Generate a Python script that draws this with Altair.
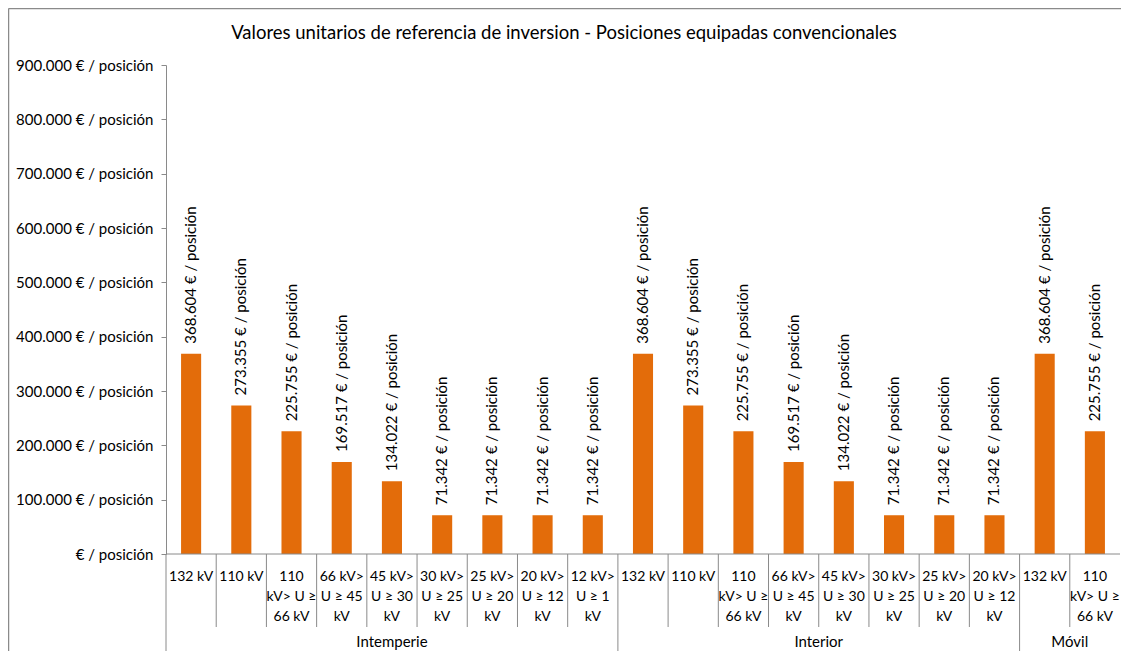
import altair as alt
import pandas as pd

# ---------------- data ----------------
groups = ["Intemperie"] * 9 + ["Interior"] * 8 + ["Móvil"] * 2
categories = [
    "132 kV", "110 kV", "110|kV> U ≥|66 kV", "66 kV>|U ≥ 45|kV", "45 kV>|U ≥ 30|kV",
    "30 kV>|U ≥ 25|kV", "25 kV>|U ≥ 20|kV", "20 kV>|U ≥ 12|kV", "12 kV>|U ≥ 1|kV",
    "132 kV", "110 kV", "110|kV> U ≥|66 kV", "66 kV>|U ≥ 45|kV", "45 kV>|U ≥ 30|kV",
    "30 kV>|U ≥ 25|kV", "25 kV>|U ≥ 20|kV", "20 kV>|U ≥ 12|kV",
    "132 kV", "110|kV> U ≥|66 kV",
]
values = [
    368604, 273355, 225755, 169517, 134022, 71342, 71342, 71342, 71342,
    368604, 273355, 225755, 169517, 134022, 71342, 71342, 71342,
    368604, 225755,
]
y_ticks = [0, 100000, 200000, 300000, 400000, 500000, 600000, 700000, 800000, 900000]
chart_title = "Valores unitarios de referencia de inversion - Posiciones equipadas convencionales"

# ---------------- tables ----------------
n = len(values)
df = pd.DataFrame({
    "lo": [i + 0.3 for i in range(n)],
    "hi": [i + 0.7 for i in range(n)],
    "mid": [i + 0.5 for i in range(n)],
    "value": values,
    "base": [0] * n,
    "cat": categories,
    "vlabel": [f"{v:,}".replace(",", ".") + " € / posición" for v in values],
})

group_names = []
group_start = []
group_end = []
for i, g in enumerate(groups):
    if not group_names or group_names[-1] != g:
        group_names.append(g)
        group_start.append(i)
        group_end.append(i + 1)
    else:
        group_end[-1] = i + 1
gdf = pd.DataFrame({
    "name": group_names,
    "start": group_start,
    "center": [(s + e) / 2 for s, e in zip(group_start, group_end)],
})
inner_b = [i for i in range(1, n) if groups[i] == groups[i - 1]]
idf = pd.DataFrame({"b": inner_b})
zdf = pd.DataFrame({"z": [0]})

# ---------------- style ----------------
W, H = 954, 489
FONT = "Lato"
GRAY = "#8a8a8a"
ORANGE = "#E36C0A"

xs = alt.Scale(domain=[0, n], nice=False, zero=False)
ys = alt.Scale(domain=[0, 900000], nice=False)

yaxis = alt.Axis(
    values=y_ticks, grid=False, title=None,
    labelExpr="datum.value == 0 ? '€ / posición' : format(datum.value / 1000, 'd') + '.000 € / posición'",
    labelFont=FONT, labelFontSize=15, labelColor="black", labelPadding=8,
    domainColor=GRAY, tickColor=GRAY, tickSize=5,
)

bars = alt.Chart(df).mark_bar(color=ORANGE).encode(
    x=alt.X("lo:Q", scale=xs, axis=None),
    x2="hi",
    y=alt.Y("value:Q", scale=ys, axis=yaxis),
    y2="base",
)

bar_labels = alt.Chart(df).mark_text(
    angle=270, align="left", baseline="middle", dx=10,
    font=FONT, fontSize=15, color="black",
).encode(x=alt.X("mid:Q", scale=xs), y=alt.Y("value:Q", scale=ys), text="vlabel:N")

zero_line = alt.Chart(zdf).mark_rule(color=GRAY).encode(y=alt.Y("z:Q", scale=ys))

inner_sep = alt.Chart(idf).mark_rule(color=GRAY).encode(
    x=alt.X("b:Q", scale=xs), y=alt.value(H), y2=alt.value(H + 73)
)
group_sep = alt.Chart(gdf).mark_rule(color=GRAY).encode(
    x=alt.X("start:Q", scale=xs), y=alt.value(H), y2=alt.value(H + 200)
)

cat_labels = alt.Chart(df).mark_text(
    align="center", baseline="alphabetic", lineBreak="|", lineHeight=20,
    font=FONT, fontSize=14, color="black",
).encode(x=alt.X("mid:Q", scale=xs), y=alt.value(H + 27), text="cat:N")

group_labels = alt.Chart(gdf).mark_text(
    align="center", baseline="alphabetic", font=FONT, fontSize=15, color="black",
).encode(x=alt.X("center:Q", scale=xs), y=alt.value(H + 93), text="name:N")

title_df = pd.DataFrame({"t": [chart_title]})
title_mark = alt.Chart(title_df).mark_text(
    align="center", baseline="middle", font=FONT, fontSize=18.5, color="black",
).encode(x=alt.value(398), y=alt.value(-32), text="t:N")

box_top = alt.Chart(zdf).mark_rule(color=GRAY, strokeWidth=1.5).encode(
    x=alt.value(-157.5), x2=alt.value(W + 20), y=alt.value(-56.5)
)
box_left = alt.Chart(zdf).mark_rule(color=GRAY, strokeWidth=1.5).encode(
    x=alt.value(-157.5), y=alt.value(-56.5), y2=alt.value(H + 200)
)

chart = alt.layer(
    box_top, box_left, title_mark, bars, bar_labels, zero_line,
    inner_sep, group_sep, cat_labels, group_labels,
).properties(
    width=W, height=H,
    autosize=alt.AutoSizeParams(type="none"),
    padding={"left": 158, "top": 57, "right": 1, "bottom": 97},
).configure_view(stroke=None)

chart.save("out.html", embed_options={"renderer": "svg", "actions": False})
